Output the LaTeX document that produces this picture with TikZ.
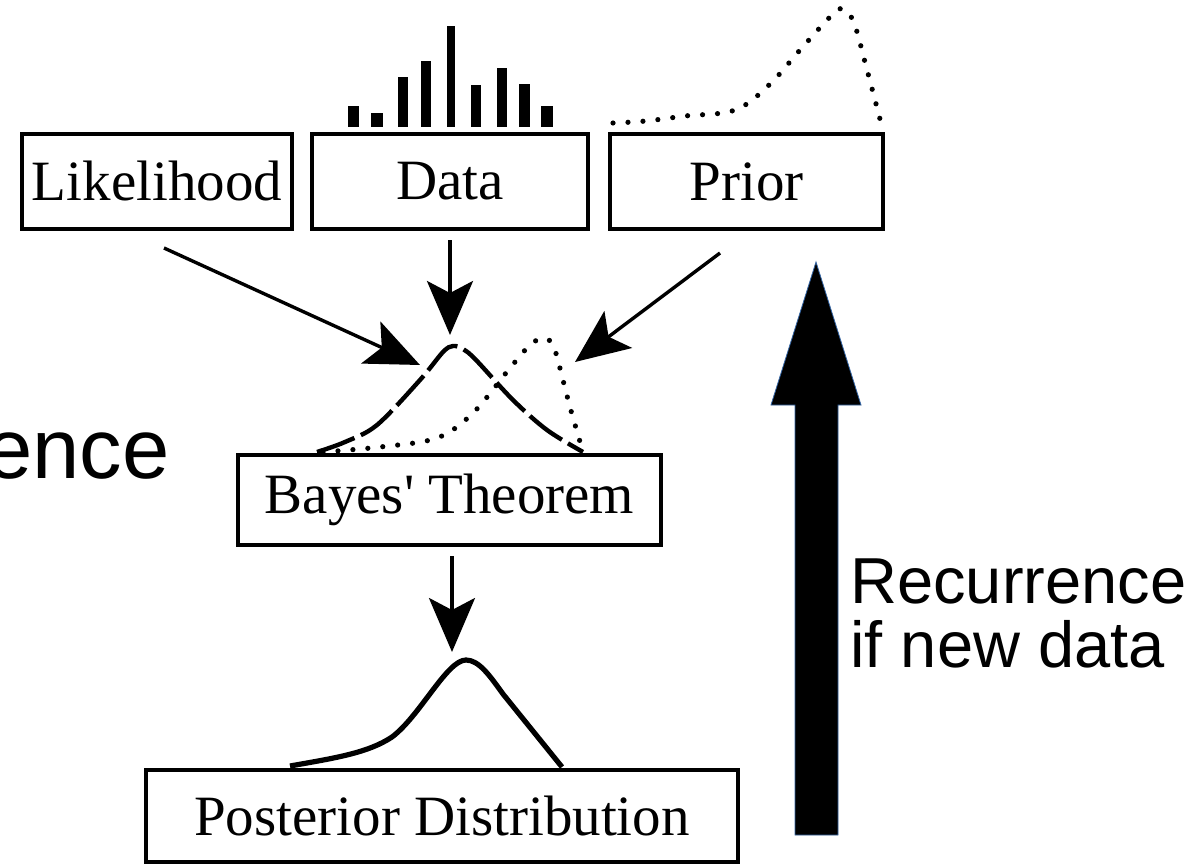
\documentclass[tikz,border=0pt]{standalone}
\usepackage{fontspec}
\setmainfont{Liberation Serif}
\newfontfamily\arialfont{Liberation Sans}
\usetikzlibrary{arrows.meta}
\begin{document}
\begin{tikzpicture}[x=0.5pt,y=-0.5pt,
  box/.style={draw=black, line width=2.4pt, inner sep=0pt, minimum height=47.5pt,
              font=\fontsize{28.5}{30}\selectfont},
  arr/.style={line width=1.7pt, -{Stealth[length=27pt, width=23pt, inset=6pt]}},
  dotline/.style={line width=2.6pt, line cap=round, dash pattern=on 0pt off 7.5pt},
  dashline/.style={line width=2.2pt, dash pattern=on 20pt off 3.5pt},
  solidcurve/.style={line width=2.6pt, line cap=butt, line join=round},
  sanstext/.style={font=\arialfont\fontsize{32.5}{33}\selectfont, inner sep=0pt, anchor=base west},
  bar/.style={fill=black}]
\useasboundingbox (0,0) rectangle (1195,867);

% boxes
\node[box, minimum width=135pt] (like) at (157,181.5) {Likelihood};
\node[box, minimum width=138pt] (data) at (450,181.5) {Data};
\node[box, minimum width=136.5pt] (prior) at (746.5,181.5) {Prior};
\node[box, minimum width=211.5pt, minimum height=45pt] (bayes) at (449.5,500) {Bayes\textquotesingle\ Theorem};
\node[box, minimum width=296pt, minimum height=46pt] (post) at (442,816) {Posterior Distribution};

% data bars
\fill[bar] (347.5,127.3) rectangle (358.7,106.3);
\fill[bar] (370.6,127.3) rectangle (383.1,113.0);
\fill[bar] (397.6,127.3) rectangle (408.2,77.0);
\fill[bar] (420.9,127.3) rectangle (430.9,60.7);
\fill[bar] (446.5,127.3) rectangle (455.4,25.7);
\fill[bar] (471.1,127.3) rectangle (481.1,85.3);
\fill[bar] (496.9,127.3) rectangle (506.6,68.0);
\fill[bar] (519.3,127.3) rectangle (529.8,84.0);
\fill[bar] (541.3,127.3) rectangle (552.9,106.3);

% prior curve (dotted)
\draw[dotline] plot[smooth, tension=0.6] coordinates
  {(613,123) (646,121) (685,116) (735,110) (769,85) (800,50) (831,16) (843,9) (854,23) (866,66) (881,123)};

% likelihood (dashed) and prior (dotted) above Bayes box
\draw[dashline] plot[smooth, tension=0.55] coordinates
  {(317,452) (345,442) (377,425) (420,380) (443,352) (453,346) (463,349) (476,360) (513,400) (547,430) (583,452)};
\draw[dotline] plot[smooth, tension=0.55] coordinates
  {(323,452) (380,447) (437,438) (473,413) (510,368) (530,345) (543,338) (552,343) (557,357) (570,407) (583,452)};

% posterior curve
\draw[solidcurve] (290,766) .. controls (335,758) and (368,753) .. (392,737)
  .. controls (420,716) and (447,660) .. (466,660)
  .. controls (479,660) and (490,676) .. (503,694) -- (562,767);

% arrows
\coordinate (likeS) at (164,248);
\coordinate (likeT) at (420,365);
\coordinate (dataS) at (450,240);
\coordinate (dataT) at (450,335);
\coordinate (priorS) at (720,253);
\coordinate (priorT) at (575,362);
\coordinate (bayesS) at (452,556);
\coordinate (bayesT) at (452,652);
\draw[arr] (likeS) -- (likeT);
\draw[arr] (dataS) -- (dataT);
\draw[arr] (priorS) -- (priorT);
\draw[arr] (bayesS) -- (bayesT);

% big recurrence arrow
\filldraw[fill=black, draw={rgb,255:red,52;green,101;blue,164}, line width=0.4pt]
  (795,835) -- (795,405) -- (771,405) -- (816,262) -- (861,405) -- (838,405) -- (838,835) -- cycle;

% texts
\node[font=\arialfont\fontsize{42.5}{44}\selectfont, inner sep=0pt, anchor=base east] (ence) at (170,478) {ence};
\node[sanstext] (rec1) at (850,603) {Recurrence};
\node[sanstext] (rec2) at (850,667) {if new data};
\end{tikzpicture}
\end{document}
